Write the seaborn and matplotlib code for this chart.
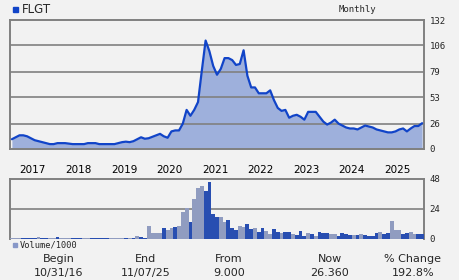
import numpy as np
import pandas as pd
import matplotlib
matplotlib.use("Agg")
import matplotlib.pyplot as plt
import seaborn as sns

# ---- data ----
months = list(range(109))  # month index from Nov 2016 to Nov 2025
price = [10, 12, 14, 14, 13, 11, 9, 8, 7, 6, 5, 5, 6, 6, 6, 5.5, 5, 5, 5, 5,
         6, 6, 6, 5, 5, 5, 5, 5, 6, 7, 7.5, 7, 8, 10, 12, 10.5, 11, 12.5, 14, 15.5,
         13, 11.5, 18, 19, 19, 26, 40, 34, 40, 48, 80, 111, 100, 85, 76, 82, 93, 93, 91, 86,
         87, 101, 75, 63, 63, 57, 57, 57, 60, 50, 42, 39, 40, 32, 34, 35, 33, 30, 38, 38,
         38, 33, 28, 25, 27, 30, 26, 24, 22, 21, 21, 20, 22, 24, 23, 22, 20, 19, 18, 17,
         17, 18, 20, 21, 18, 21, 23.5, 23.5, 26.4]
volume = [1.0, 1.0, 0.5, 0.5, 0.8, 0.8, 0.8, 1.6, 0.8, 0.8, 0.5, 0.5, 1.6, 1.0, 1.0, 1.0,
          1.0, 1.0, 1.0, 1.0, 1.0, 1.0, 1.0, 1.0, 1.0, 1.0, 1.0, 1.0, 1.0, 1.0, 1.0, 1.0,
          0.5, 2.4, 1.6, 0.8, 10.5, 4.8, 4.8, 4.8, 8.9, 7.3, 8.9, 9.7, 10.5, 21.8, 24.7, 13.7,
          32, 41, 42.7, 38.7, 46, 20, 17.7, 17.7, 13.7, 15.3, 8.9, 7.3, 10.5, 9.7, 12.1, 8,
          8.9, 5.6, 8.9, 6.5, 4, 8, 5.6, 4.8, 5.6, 5.6, 4, 3.2, 6.5, 2.4, 4.8, 4, 2.4, 5.6,
          4.8, 4.8, 4, 4, 2.4, 4.8, 4, 3.2, 3.2, 3.2, 4, 3.2, 2.4, 2.4, 4.8, 5.6, 4, 4.8,
          14.5, 7.3, 7.3, 4, 4.8, 5.6, 4, 4, 4]
# u = up month (light bar), d = down month (dark bar), ten months per chunk
direction = list("uuuddddudd" "uuduuudddu" "uddddduuuu" "dududduuuu" "duuduuuduu"
                 "udddduuddd" "uuddudduud" "duddudddud" "uddduudddd" "ududdddudd"
                 "uuudduudd")
year_labels = ["2017", "2018", "2019", "2020", "2021", "2022", "2023", "2024", "2025"]
year_pos = [5.5 + 12 * i for i in range(9)]
price_ticks = [0, 26, 53, 79, 106, 132]
vol_ticks = [0, 24, 48]
footer_heads = ["Begin", "End", "From", "Now", "% Change"]
footer_vals = ["10/31/16", "11/07/25", "9.000", "26.360", "192.8%"]

# ---- style ----
sns.set_theme(style="white", rc={"axes.facecolor": "#f2f2f2", "figure.facecolor": "#f2f2f2"})
plt.rcParams["font.family"] = ["DejaVu Sans"]

BG = "#f2f2f2"
GRID = "#808080"
LINE = "#1144c8"
FILL = "#9eb0dc"
UP = "#8898c8"
DOWN = "#1144c8"

fig = plt.figure(figsize=(4.6, 2.8), dpi=100, facecolor=BG)
ax = fig.add_axes([10 / 460, 1 - 149 / 280, 414 / 460, 129 / 280])
axv = fig.add_axes([10 / 460, 1 - 239 / 280, 414 / 460, 60 / 280])

df = pd.DataFrame({"m": months, "price": price})
vdf = pd.DataFrame({"m": months, "vol": volume, "dir": direction})

XL = (-0.5, 108.5)

# price panel
ax.fill_between(df["m"], 0, df["price"], color=FILL, lw=0, zorder=1)
sns.lineplot(data=df, x="m", y="price", ax=ax, color=LINE, lw=1.6, zorder=3)
ax.set_xlim(*XL)
ax.set_ylim(0, 132)
ax.set_yticks(price_ticks)
ax.yaxis.tick_right()
ax.set_yticklabels([str(t) for t in price_ticks], family="DejaVu Sans Mono", fontsize=6.5)
ax.tick_params(axis="y", length=0, pad=4)
ax.set_xticks([])
ax.set_xlabel("")
ax.set_ylabel("")
for t in price_ticks[1:-1]:
    ax.axhline(t, color=GRID, lw=1.2, zorder=2)
for s in ax.spines.values():
    s.set_color(GRID)
    s.set_linewidth(1.4)

# volume panel
sns.barplot(data=vdf, x="m", y="vol", hue="dir", palette={"u": UP, "d": DOWN},
            dodge=False, width=1.0, ax=axv, legend=False, linewidth=0, zorder=3,
            native_scale=True)
axv.set_xlim(*XL)
axv.set_ylim(0, 48)
axv.set_yticks(vol_ticks)
axv.yaxis.tick_right()
axv.set_yticklabels([str(t) for t in vol_ticks], family="DejaVu Sans Mono", fontsize=6.5)
axv.tick_params(axis="y", length=0, pad=4)
axv.axhline(24, color=GRID, lw=1.2, zorder=2)
axv.set_xticks([])
axv.set_xlabel("")
axv.set_ylabel("")
for s in axv.spines.values():
    s.set_color(GRID)
    s.set_linewidth(1.4)
axv.spines["bottom"].set_visible(False)

# year labels between panels
for lab, pos in zip(year_labels, year_pos):
    axv.text(pos, 1.0 + 9 / 60, lab, transform=axv.get_xaxis_transform(), ha="center",
             va="center", fontsize=7.5, color="black")

# header
fig.patches.append(plt.Rectangle((12.7 / 460, 1 - 11.7 / 280), 5 / 460, 5 / 280,
                                 transform=fig.transFigure, color=LINE))
fig.text(22 / 460, 1 - 9.5 / 280, "FLGT", fontsize=8.5, va="center", ha="left")
fig.text(357 / 460, 1 - 9 / 280, "Monthly", family="DejaVu Sans Mono", fontsize=6.5,
         va="center", ha="center")

# volume legend
fig.patches.append(plt.Rectangle((13 / 460, 1 - 247 / 280), 4 / 460, 4 / 280,
                                 transform=fig.transFigure, color=UP))
fig.text(20 / 460, 1 - 245 / 280, "Volume/1000", family="DejaVu Sans Mono",
         fontsize=6.2, va="center", ha="left")

# footer
foot_x = [59, 146, 229, 330, 413]
for x, h, v in zip(foot_x, footer_heads, footer_vals):
    fig.text(x / 460, 1 - 259 / 280, h, fontsize=8, ha="center", va="center")
    fig.text(x / 460, 1 - 273 / 280, v, fontsize=8, ha="center", va="center")

fig.savefig("out.png", dpi=100, facecolor=BG)
